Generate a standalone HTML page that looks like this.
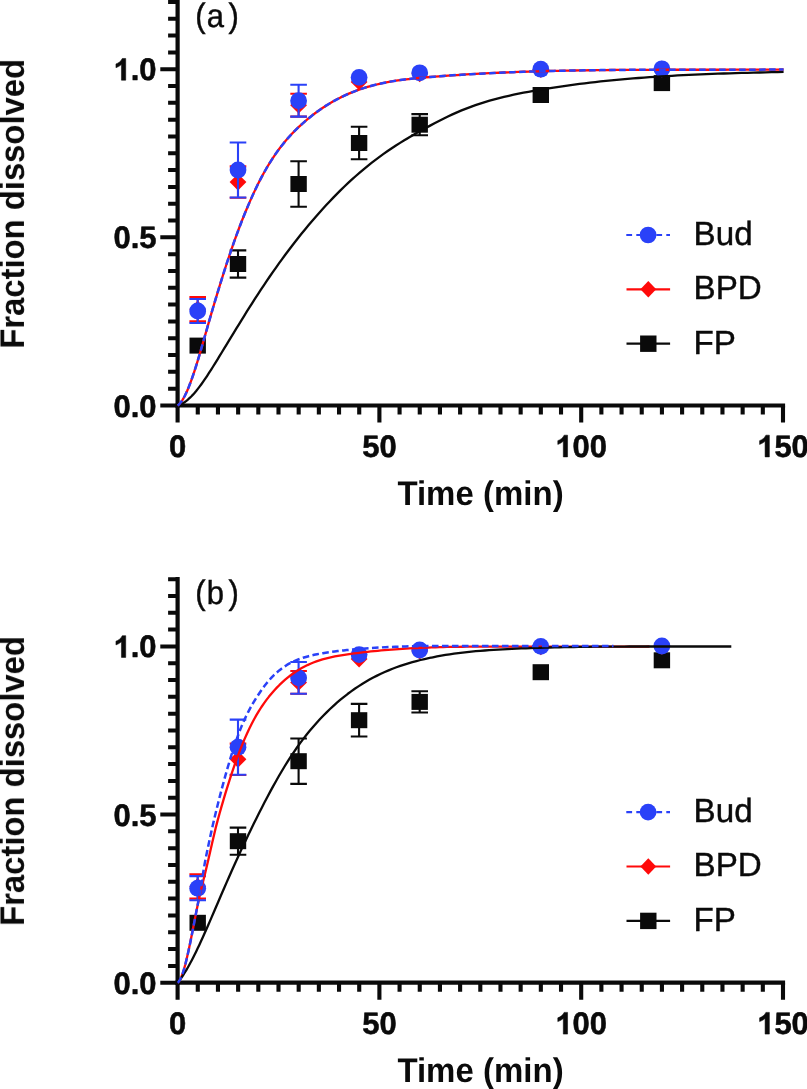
<!DOCTYPE html>
<html><head><meta charset="utf-8"><title>Dissolution profiles</title>
<style>
html,body{margin:0;padding:0;background:#fff;}
body{width:807px;height:1089px;overflow:hidden;font-family:"Liberation Sans",sans-serif;}
svg{display:block;opacity:0.999;}
text{text-rendering:geometricPrecision;}
.tx{filter:grayscale(1);}
</style></head><body>
<svg width="807" height="1089" viewBox="0 0 807 1089">
<rect width="807" height="1089" fill="#ffffff"/>
<g stroke="#0a0a0a" stroke-width="4.2" fill="none" stroke-linecap="butt">
<path d="M177.6,-0.16V407.60"/>
<path d="M175.5,405.50H785.1"/>
<path d="M160.3,405.50H177.6M168.1,388.69H177.6M168.1,371.87H177.6M168.1,355.06H177.6M168.1,338.24H177.6M168.1,321.43H177.6M168.1,304.61H177.6M168.1,287.79H177.6M168.1,270.98H177.6M168.1,254.16H177.6M160.3,237.35H177.6M168.1,220.53H177.6M168.1,203.72H177.6M168.1,186.90H177.6M168.1,170.09H177.6M168.1,153.27H177.6M168.1,136.46H177.6M168.1,119.64H177.6M168.1,102.83H177.6M168.1,86.01H177.6M160.3,69.20H177.6M168.1,52.38H177.6M168.1,35.57H177.6M168.1,18.75H177.6M168.1,1.94H177.6" stroke-width="4"/>
<path d="M177.60,405.50V422.50M197.78,405.50V414.50M217.96,405.50V414.50M238.14,405.50V414.50M258.32,405.50V414.50M278.50,405.50V414.50M298.68,405.50V414.50M318.86,405.50V414.50M339.04,405.50V414.50M359.22,405.50V414.50M379.40,405.50V422.50M399.58,405.50V414.50M419.76,405.50V414.50M439.94,405.50V414.50M460.12,405.50V414.50M480.30,405.50V414.50M500.48,405.50V414.50M520.66,405.50V414.50M540.84,405.50V414.50M561.02,405.50V414.50M581.20,405.50V422.50M601.38,405.50V414.50M621.56,405.50V414.50M641.74,405.50V414.50M661.92,405.50V414.50M682.10,405.50V414.50M702.28,405.50V414.50M722.46,405.50V414.50M742.64,405.50V414.50M762.82,405.50V414.50M783.00,405.50V422.50" stroke-width="4.1"/>
</g>
<g class="tx" font-family="Liberation Sans, sans-serif" font-weight="700" font-size="31px" fill="#0a0a0a" stroke="#0a0a0a" stroke-width="0.55" stroke-linejoin="round">
<text x="113.51" y="416.50">0</text><text x="130.75" y="416.50">.</text><text x="139.36" y="416.50">0</text>
<text x="113.51" y="248.35">0</text><text x="130.75" y="248.35">.</text><text x="139.36" y="248.35">5</text>
<path transform="translate(113.51,80.20) scale(0.015137,-0.014758)" stroke-width="36" d="M806 0H525V1059Q371 915 162 846V1101Q272 1137 401 1237.5Q530 1338 578 1472H806Z"/><text x="130.75" y="80.20">.</text><text x="139.36" y="80.20">0</text>
<text x="168.98" y="456.90">0</text>
<text x="362.16" y="456.90">5</text><text x="379.40" y="456.90">0</text>
<path transform="translate(555.35,456.90) scale(0.015137,-0.014758)" stroke-width="36" d="M806 0H525V1059Q371 915 162 846V1101Q272 1137 401 1237.5Q530 1338 578 1472H806Z"/><text x="572.58" y="456.90">0</text><text x="589.82" y="456.90">0</text>
<path transform="translate(757.15,456.90) scale(0.015137,-0.014758)" stroke-width="36" d="M806 0H525V1059Q371 915 162 846V1101Q272 1137 401 1237.5Q530 1338 578 1472H806Z"/><text x="774.38" y="456.90">5</text><text x="791.62" y="456.90">0</text>
</g>
<g class="tx" font-family="Liberation Sans, sans-serif" font-weight="700" font-size="33px" fill="#0a0a0a">
<text transform="translate(480.5,504.7) scale(1.0,1.04)" text-anchor="middle">Time (min)</text>
<text transform="translate(24.0,203.8) rotate(-90) scale(0.994,1.035)" text-anchor="middle">Fraction dissolved</text>
</g>
<g class="tx" font-family="Liberation Sans, sans-serif" font-size="31px" fill="#0a0a0a" stroke="#0a0a0a" stroke-width="0.4">
<text transform="translate(195.3,27.0) scale(1.0,1.09)">(</text>
<text transform="translate(206.7,26.6) scale(1.0,1.07)">a</text>
<text transform="translate(228.6,27.0) scale(1.0,1.09)">)</text>
<text transform="translate(693.6,245.1) scale(1.07,1.08)">Bud</text>
<text transform="translate(693.6,299.2) scale(1.07,1.08)">BPD</text>
<text transform="translate(693.6,353.6) scale(1.07,1.08)">FP</text>
</g>
<path d="M626.3,235.0H670.0" stroke="#2a41f8" stroke-width="2.2" stroke-dasharray="5.8 4.2" fill="none"/>
<circle cx="648.1" cy="235.0" r="8.35" fill="#2a41f8"/>
<path d="M626.5,289.3H670.1" stroke="#ff0a0a" stroke-width="2.2" fill="none"/>
<path d="M648.3,281.0l7.9,8.3l-7.9,8.3l-7.9,-8.3z" fill="#ff0a0a"/>
<path d="M626.5,343.7H670.1" stroke="#0a0a0a" stroke-width="2.2" fill="none"/>
<rect x="640.1" y="335.5" width="16.4" height="16.4" fill="#0a0a0a"/>
<rect x="189.5" y="337.60" width="16.4" height="16" fill="#0a0a0a"/>
<path d="M238.0,250.40V277.60M229.7,250.40h16.6M229.7,277.60h16.6" stroke="#0a0a0a" stroke-width="2.1" fill="none"/>
<rect x="229.8" y="256.00" width="16.4" height="16" fill="#0a0a0a"/>
<path d="M298.6,161.30V206.70M290.3,161.30h16.6M290.3,206.70h16.6" stroke="#0a0a0a" stroke-width="2.1" fill="none"/>
<rect x="290.4" y="176.00" width="16.4" height="16" fill="#0a0a0a"/>
<path d="M359.1,126.70V159.30M350.8,126.70h16.6M350.8,159.30h16.6" stroke="#0a0a0a" stroke-width="2.1" fill="none"/>
<rect x="350.9" y="135.00" width="16.4" height="16" fill="#0a0a0a"/>
<path d="M419.7,114.10V135.30M411.4,114.10h16.6M411.4,135.30h16.6" stroke="#0a0a0a" stroke-width="2.1" fill="none"/>
<rect x="411.5" y="116.70" width="16.4" height="16" fill="#0a0a0a"/>
<rect x="532.6" y="87.00" width="16.4" height="16" fill="#0a0a0a"/>
<rect x="653.7" y="75.10" width="16.4" height="16" fill="#0a0a0a"/>
<path d="M197.7,297.10V321.40M189.4,297.10h16.6M189.4,321.40h16.6" stroke="#ff0a0a" stroke-width="2.1" fill="none"/>
<path d="M197.7,300.85l8.4,8.4l-8.4,8.4l-8.4,-8.4z" fill="#ff0a0a"/>
<path d="M238.0,166.40V197.80M229.7,166.40h16.6M229.7,197.80h16.6" stroke="#ff0a0a" stroke-width="2.1" fill="none"/>
<path d="M238.0,173.70l8.4,8.4l-8.4,8.4l-8.4,-8.4z" fill="#ff0a0a"/>
<path d="M298.6,93.80V116.60M290.3,93.80h16.6M290.3,116.60h16.6" stroke="#ff0a0a" stroke-width="2.1" fill="none"/>
<path d="M298.6,96.80l8.4,8.4l-8.4,8.4l-8.4,-8.4z" fill="#ff0a0a"/>
<path d="M359.1,73.50l8.4,8.4l-8.4,8.4l-8.4,-8.4z" fill="#ff0a0a"/>
<path d="M419.7,65.40l8.4,8.4l-8.4,8.4l-8.4,-8.4z" fill="#ff0a0a"/>
<path d="M540.8,61.20l8.4,8.4l-8.4,8.4l-8.4,-8.4z" fill="#ff0a0a"/>
<path d="M661.9,60.80l8.4,8.4l-8.4,8.4l-8.4,-8.4z" fill="#ff0a0a"/>
<path d="M197.7,298.95V323.05M189.4,298.95h16.6M189.4,323.05h16.6" stroke="#2a41f8" stroke-width="2.1" fill="none"/>
<circle cx="197.7" cy="311.00" r="8.4" fill="#2a41f8"/>
<path d="M238.0,142.45V197.55M229.7,142.45h16.6M229.7,197.55h16.6" stroke="#2a41f8" stroke-width="2.1" fill="none"/>
<circle cx="238.0" cy="170.00" r="8.4" fill="#2a41f8"/>
<path d="M298.6,84.80V116.60M290.3,84.80h16.6M290.3,116.60h16.6" stroke="#2a41f8" stroke-width="2.1" fill="none"/>
<circle cx="298.6" cy="100.70" r="8.4" fill="#2a41f8"/>
<circle cx="359.1" cy="77.40" r="8.4" fill="#2a41f8"/>
<circle cx="419.7" cy="72.80" r="8.4" fill="#2a41f8"/>
<circle cx="540.8" cy="69.20" r="8.4" fill="#2a41f8"/>
<circle cx="661.9" cy="68.80" r="8.4" fill="#2a41f8"/>
<path d="M177.60,405.50 L177.78,405.45 L178.15,405.35 L178.66,405.19 L179.27,404.97 L179.99,404.69 L180.80,404.34 L181.70,403.89 L182.67,403.36 L183.72,402.72 L184.85,401.97 L186.04,401.10 L187.30,400.10 L188.63,398.96 L190.02,397.67 L191.47,396.24 L192.98,394.65 L194.54,392.89 L196.16,390.98 L197.84,388.89 L199.57,386.64 L201.36,384.23 L203.19,381.65 L205.08,378.91 L207.02,376.02 L209.00,372.98 L211.03,369.80 L213.12,366.50 L215.24,363.07 L217.42,359.55 L219.64,355.94 L221.90,352.24 L224.21,348.45 L226.56,344.60 L228.96,340.66 L231.40,336.66 L233.88,332.59 L236.40,328.46 L238.96,324.28 L241.56,320.05 L244.21,315.78 L246.89,311.47 L249.62,307.14 L252.38,302.78 L255.18,298.41 L258.02,294.03 L260.90,289.65 L263.82,285.27 L266.77,280.89 L269.76,276.52 L272.79,272.15 L275.85,267.79 L278.95,263.44 L282.09,259.11 L285.26,254.80 L288.47,250.51 L291.71,246.24 L294.99,241.99 L298.30,237.77 L301.65,233.58 L305.03,229.43 L308.45,225.30 L311.90,221.22 L315.38,217.17 L318.89,213.17 L322.44,209.21 L326.03,205.30 L329.64,201.44 L333.29,197.63 L336.97,193.87 L340.68,190.18 L344.42,186.53 L348.20,182.95 L352.00,179.44 L355.84,175.99 L359.71,172.61 L363.61,169.30 L367.54,166.06 L371.50,162.89 L375.50,159.81 L379.52,156.80 L383.57,153.88 L387.66,151.03 L391.77,148.25 L395.92,145.55 L400.09,142.90 L404.29,140.31 L408.52,137.78 L412.78,135.28 L417.08,132.83 L421.40,130.40 L425.74,128.00 L430.12,125.63 L434.53,123.28 L438.96,120.98 L443.42,118.72 L447.92,116.53 L452.43,114.41 L456.98,112.37 L461.56,110.43 L466.16,108.58 L470.79,106.83 L475.45,105.17 L480.14,103.59 L484.85,102.11 L489.59,100.70 L494.36,99.37 L499.15,98.11 L503.97,96.92 L508.82,95.80 L513.70,94.73 L518.60,93.71 L523.53,92.73 L528.48,91.80 L533.46,90.90 L538.47,90.02 L543.51,89.18 L548.57,88.35 L553.65,87.55 L558.76,86.78 L563.90,86.03 L569.07,85.31 L574.26,84.60 L579.47,83.93 L584.71,83.28 L589.98,82.65 L595.27,82.04 L600.58,81.46 L605.92,80.90 L611.29,80.36 L616.68,79.84 L622.10,79.35 L627.54,78.87 L633.01,78.42 L638.50,77.99 L644.01,77.57 L649.55,77.18 L655.12,76.80 L660.71,76.44 L666.32,76.10 L671.96,75.78 L677.62,75.47 L683.31,75.18 L689.02,74.90 L694.75,74.64 L700.51,74.39 L706.29,74.16 L712.10,73.93 L717.93,73.72 L723.78,73.52 L729.66,73.33 L735.56,73.15 L741.48,72.97 L747.43,72.81 L753.40,72.64 L759.39,72.49 L765.41,72.34 L771.45,72.19 L777.51,72.05 L783.60,71.90" stroke="#0a0a0a" stroke-width="2.3" fill="none" stroke-linejoin="round"/>
<path d="M177.60,405.50 L177.78,405.37 L178.15,405.09 L178.66,404.67 L179.27,404.08 L179.99,403.31 L180.80,402.32 L181.70,401.10 L182.67,399.61 L183.72,397.82 L184.85,395.72 L186.04,393.28 L187.30,390.49 L188.63,387.32 L190.02,383.78 L191.47,379.85 L192.98,375.53 L194.54,370.83 L196.16,365.75 L197.84,360.31 L199.57,354.53 L201.36,348.43 L203.19,342.05 L205.08,335.43 L207.02,328.62 L209.00,321.67 L211.03,314.63 L213.12,307.51 L215.24,300.32 L217.42,293.09 L219.64,285.82 L221.90,278.54 L224.21,271.25 L226.56,263.98 L228.96,256.75 L231.40,249.57 L233.88,242.46 L236.40,235.44 L238.96,228.52 L241.56,221.71 L244.21,215.04 L246.89,208.50 L249.62,202.12 L252.38,195.90 L255.18,189.87 L258.02,184.02 L260.90,178.38 L263.82,172.95 L266.77,167.76 L269.76,162.80 L272.79,158.07 L275.85,153.56 L278.95,149.26 L282.09,145.17 L285.26,141.28 L288.47,137.57 L291.71,134.04 L294.99,130.66 L298.30,127.43 L301.65,124.32 L305.03,121.33 L308.45,118.45 L311.90,115.67 L315.38,113.01 L318.89,110.45 L322.44,108.01 L326.03,105.67 L329.64,103.44 L333.29,101.33 L336.97,99.31 L340.68,97.41 L344.42,95.61 L348.20,93.92 L352.00,92.32 L355.84,90.83 L359.71,89.43 L363.61,88.13 L367.54,86.92 L371.50,85.80 L375.50,84.76 L379.52,83.80 L383.57,82.93 L387.66,82.12 L391.77,81.39 L395.92,80.72 L400.09,80.10 L404.29,79.55 L408.52,79.04 L412.78,78.57 L417.08,78.14 L421.40,77.74 L425.74,77.36 L430.12,77.00 L434.53,76.65 L438.96,76.31 L443.42,75.98 L447.92,75.66 L452.43,75.34 L456.98,75.04 L461.56,74.75 L466.16,74.46 L470.79,74.19 L475.45,73.92 L480.14,73.67 L484.85,73.42 L489.59,73.18 L494.36,72.95 L499.15,72.73 L503.97,72.52 L508.82,72.32 L513.70,72.13 L518.60,71.94 L523.53,71.77 L528.48,71.60 L533.46,71.45 L538.47,71.30 L543.51,71.16 L548.57,71.02 L553.65,70.90 L558.76,70.78 L563.90,70.67 L569.07,70.57 L574.26,70.48 L579.47,70.39 L584.71,70.31 L589.98,70.23 L595.27,70.17 L600.58,70.11 L605.92,70.05 L611.29,70.00 L616.68,69.96 L622.10,69.92 L627.54,69.88 L633.01,69.85 L638.50,69.83 L644.01,69.81 L649.55,69.79 L655.12,69.78 L660.71,69.76 L666.32,69.76 L671.96,69.75 L677.62,69.75 L683.31,69.74 L689.02,69.74 L694.75,69.74 L700.51,69.74 L706.29,69.74 L712.10,69.74 L717.93,69.73 L723.78,69.73 L729.66,69.72 L735.56,69.71 L741.48,69.70 L747.43,69.69 L753.40,69.67 L759.39,69.65 L765.41,69.62 L771.45,69.59 L777.51,69.55 L783.60,69.50" stroke="#ff0a0a" stroke-width="2.3" fill="none" stroke-linejoin="round"/>
<path d="M177.60,405.50 L177.78,405.37 L178.15,405.09 L178.66,404.67 L179.27,404.08 L179.99,403.31 L180.80,402.32 L181.70,401.10 L182.67,399.61 L183.72,397.82 L184.85,395.72 L186.04,393.28 L187.30,390.49 L188.63,387.32 L190.02,383.78 L191.47,379.85 L192.98,375.53 L194.54,370.83 L196.16,365.75 L197.84,360.31 L199.57,354.53 L201.36,348.43 L203.19,342.05 L205.08,335.43 L207.02,328.62 L209.00,321.67 L211.03,314.63 L213.12,307.51 L215.24,300.32 L217.42,293.09 L219.64,285.82 L221.90,278.54 L224.21,271.25 L226.56,263.98 L228.96,256.75 L231.40,249.57 L233.88,242.46 L236.40,235.44 L238.96,228.52 L241.56,221.71 L244.21,215.04 L246.89,208.50 L249.62,202.12 L252.38,195.90 L255.18,189.87 L258.02,184.02 L260.90,178.38 L263.82,172.95 L266.77,167.76 L269.76,162.80 L272.79,158.07 L275.85,153.56 L278.95,149.26 L282.09,145.17 L285.26,141.28 L288.47,137.57 L291.71,134.04 L294.99,130.66 L298.30,127.43 L301.65,124.32 L305.03,121.33 L308.45,118.45 L311.90,115.67 L315.38,113.01 L318.89,110.45 L322.44,108.01 L326.03,105.67 L329.64,103.44 L333.29,101.33 L336.97,99.31 L340.68,97.41 L344.42,95.61 L348.20,93.92 L352.00,92.32 L355.84,90.83 L359.71,89.43 L363.61,88.13 L367.54,86.92 L371.50,85.80 L375.50,84.76 L379.52,83.80 L383.57,82.93 L387.66,82.12 L391.77,81.39 L395.92,80.72 L400.09,80.10 L404.29,79.55 L408.52,79.04 L412.78,78.57 L417.08,78.14 L421.40,77.74 L425.74,77.36 L430.12,77.00 L434.53,76.65 L438.96,76.31 L443.42,75.98 L447.92,75.66 L452.43,75.34 L456.98,75.04 L461.56,74.75 L466.16,74.46 L470.79,74.19 L475.45,73.92 L480.14,73.67 L484.85,73.42 L489.59,73.18 L494.36,72.95 L499.15,72.73 L503.97,72.52 L508.82,72.32 L513.70,72.13 L518.60,71.94 L523.53,71.77 L528.48,71.60 L533.46,71.45 L538.47,71.30 L543.51,71.16 L548.57,71.02 L553.65,70.90 L558.76,70.78 L563.90,70.67 L569.07,70.57 L574.26,70.48 L579.47,70.39 L584.71,70.31 L589.98,70.23 L595.27,70.17 L600.58,70.11 L605.92,70.05 L611.29,70.00 L616.68,69.96 L622.10,69.92 L627.54,69.88 L633.01,69.85 L638.50,69.83 L644.01,69.81 L649.55,69.79 L655.12,69.78 L660.71,69.76 L666.32,69.76 L671.96,69.75 L677.62,69.75 L683.31,69.74 L689.02,69.74 L694.75,69.74 L700.51,69.74 L706.29,69.74 L712.10,69.74 L717.93,69.73 L723.78,69.73 L729.66,69.72 L735.56,69.71 L741.48,69.70 L747.43,69.69 L753.40,69.67 L759.39,69.65 L765.41,69.62 L771.45,69.59 L777.51,69.55 L783.60,69.50" stroke="#2a41f8" stroke-width="2.5" stroke-dasharray="6.6 3.4" fill="none" stroke-linejoin="round"/>
<g stroke="#0a0a0a" stroke-width="4.2" fill="none" stroke-linecap="butt">
<path d="M177.6,577.04V984.80"/>
<path d="M175.5,982.70H785.1"/>
<path d="M160.3,982.70H177.6M168.1,965.88H177.6M168.1,949.07H177.6M168.1,932.25H177.6M168.1,915.44H177.6M168.1,898.62H177.6M168.1,881.81H177.6M168.1,865.00H177.6M168.1,848.18H177.6M168.1,831.37H177.6M160.3,814.55H177.6M168.1,797.74H177.6M168.1,780.92H177.6M168.1,764.11H177.6M168.1,747.29H177.6M168.1,730.48H177.6M168.1,713.66H177.6M168.1,696.85H177.6M168.1,680.03H177.6M168.1,663.22H177.6M160.3,646.40H177.6M168.1,629.59H177.6M168.1,612.77H177.6M168.1,595.95H177.6M168.1,579.14H177.6" stroke-width="4"/>
<path d="M177.60,982.70V999.70M197.78,982.70V991.70M217.96,982.70V991.70M238.14,982.70V991.70M258.32,982.70V991.70M278.50,982.70V991.70M298.68,982.70V991.70M318.86,982.70V991.70M339.04,982.70V991.70M359.22,982.70V991.70M379.40,982.70V999.70M399.58,982.70V991.70M419.76,982.70V991.70M439.94,982.70V991.70M460.12,982.70V991.70M480.30,982.70V991.70M500.48,982.70V991.70M520.66,982.70V991.70M540.84,982.70V991.70M561.02,982.70V991.70M581.20,982.70V999.70M601.38,982.70V991.70M621.56,982.70V991.70M641.74,982.70V991.70M661.92,982.70V991.70M682.10,982.70V991.70M702.28,982.70V991.70M722.46,982.70V991.70M742.64,982.70V991.70M762.82,982.70V991.70M783.00,982.70V999.70" stroke-width="4.1"/>
</g>
<g class="tx" font-family="Liberation Sans, sans-serif" font-weight="700" font-size="31px" fill="#0a0a0a" stroke="#0a0a0a" stroke-width="0.55" stroke-linejoin="round">
<text x="113.51" y="993.70">0</text><text x="130.75" y="993.70">.</text><text x="139.36" y="993.70">0</text>
<text x="113.51" y="825.55">0</text><text x="130.75" y="825.55">.</text><text x="139.36" y="825.55">5</text>
<path transform="translate(113.51,657.40) scale(0.015137,-0.014758)" stroke-width="36" d="M806 0H525V1059Q371 915 162 846V1101Q272 1137 401 1237.5Q530 1338 578 1472H806Z"/><text x="130.75" y="657.40">.</text><text x="139.36" y="657.40">0</text>
<text x="168.98" y="1034.10">0</text>
<text x="362.16" y="1034.10">5</text><text x="379.40" y="1034.10">0</text>
<path transform="translate(555.35,1034.10) scale(0.015137,-0.014758)" stroke-width="36" d="M806 0H525V1059Q371 915 162 846V1101Q272 1137 401 1237.5Q530 1338 578 1472H806Z"/><text x="572.58" y="1034.10">0</text><text x="589.82" y="1034.10">0</text>
<path transform="translate(757.15,1034.10) scale(0.015137,-0.014758)" stroke-width="36" d="M806 0H525V1059Q371 915 162 846V1101Q272 1137 401 1237.5Q530 1338 578 1472H806Z"/><text x="774.38" y="1034.10">5</text><text x="791.62" y="1034.10">0</text>
</g>
<g class="tx" font-family="Liberation Sans, sans-serif" font-weight="700" font-size="33px" fill="#0a0a0a">
<text transform="translate(480.5,1081.9) scale(1.0,1.04)" text-anchor="middle">Time (min)</text>
<text transform="translate(24.0,781.0) rotate(-90) scale(0.994,1.035)" text-anchor="middle">Fraction dissolved</text>
</g>
<g class="tx" font-family="Liberation Sans, sans-serif" font-size="31px" fill="#0a0a0a" stroke="#0a0a0a" stroke-width="0.4">
<text transform="translate(195.3,604.2) scale(1.0,1.09)">(</text>
<text transform="translate(206.7,603.8) scale(1.0,1.07)">b</text>
<text transform="translate(228.6,604.2) scale(1.0,1.09)">)</text>
<text transform="translate(693.6,822.3) scale(1.07,1.08)">Bud</text>
<text transform="translate(693.6,876.4) scale(1.07,1.08)">BPD</text>
<text transform="translate(693.6,930.8) scale(1.07,1.08)">FP</text>
</g>
<path d="M626.3,812.2H670.0" stroke="#2a41f8" stroke-width="2.2" stroke-dasharray="5.8 4.2" fill="none"/>
<circle cx="648.1" cy="812.2" r="8.35" fill="#2a41f8"/>
<path d="M626.5,866.5H670.1" stroke="#ff0a0a" stroke-width="2.2" fill="none"/>
<path d="M648.3,858.2l7.9,8.3l-7.9,8.3l-7.9,-8.3z" fill="#ff0a0a"/>
<path d="M626.5,920.9H670.1" stroke="#0a0a0a" stroke-width="2.2" fill="none"/>
<rect x="640.1" y="912.7" width="16.4" height="16.4" fill="#0a0a0a"/>
<rect x="189.5" y="914.80" width="16.4" height="16" fill="#0a0a0a"/>
<path d="M238.0,827.60V854.80M229.7,827.60h16.6M229.7,854.80h16.6" stroke="#0a0a0a" stroke-width="2.1" fill="none"/>
<rect x="229.8" y="833.20" width="16.4" height="16" fill="#0a0a0a"/>
<path d="M298.6,738.50V783.90M290.3,738.50h16.6M290.3,783.90h16.6" stroke="#0a0a0a" stroke-width="2.1" fill="none"/>
<rect x="290.4" y="753.20" width="16.4" height="16" fill="#0a0a0a"/>
<path d="M359.1,703.90V736.50M350.8,703.90h16.6M350.8,736.50h16.6" stroke="#0a0a0a" stroke-width="2.1" fill="none"/>
<rect x="350.9" y="712.20" width="16.4" height="16" fill="#0a0a0a"/>
<path d="M419.7,691.30V712.50M411.4,691.30h16.6M411.4,712.50h16.6" stroke="#0a0a0a" stroke-width="2.1" fill="none"/>
<rect x="411.5" y="693.90" width="16.4" height="16" fill="#0a0a0a"/>
<rect x="532.6" y="664.20" width="16.4" height="16" fill="#0a0a0a"/>
<rect x="653.7" y="652.30" width="16.4" height="16" fill="#0a0a0a"/>
<path d="M197.7,874.30V898.60M189.4,874.30h16.6M189.4,898.60h16.6" stroke="#ff0a0a" stroke-width="2.1" fill="none"/>
<path d="M197.7,878.05l8.4,8.4l-8.4,8.4l-8.4,-8.4z" fill="#ff0a0a"/>
<path d="M238.0,743.60V775.00M229.7,743.60h16.6M229.7,775.00h16.6" stroke="#ff0a0a" stroke-width="2.1" fill="none"/>
<path d="M238.0,750.90l8.4,8.4l-8.4,8.4l-8.4,-8.4z" fill="#ff0a0a"/>
<path d="M298.6,671.00V693.80M290.3,671.00h16.6M290.3,693.80h16.6" stroke="#ff0a0a" stroke-width="2.1" fill="none"/>
<path d="M298.6,674.00l8.4,8.4l-8.4,8.4l-8.4,-8.4z" fill="#ff0a0a"/>
<path d="M359.1,650.70l8.4,8.4l-8.4,8.4l-8.4,-8.4z" fill="#ff0a0a"/>
<path d="M419.7,642.60l8.4,8.4l-8.4,8.4l-8.4,-8.4z" fill="#ff0a0a"/>
<path d="M540.8,638.40l8.4,8.4l-8.4,8.4l-8.4,-8.4z" fill="#ff0a0a"/>
<path d="M661.9,638.00l8.4,8.4l-8.4,8.4l-8.4,-8.4z" fill="#ff0a0a"/>
<path d="M197.7,876.15V900.25M189.4,876.15h16.6M189.4,900.25h16.6" stroke="#2a41f8" stroke-width="2.1" fill="none"/>
<circle cx="197.7" cy="888.20" r="8.4" fill="#2a41f8"/>
<path d="M238.0,719.65V774.75M229.7,719.65h16.6M229.7,774.75h16.6" stroke="#2a41f8" stroke-width="2.1" fill="none"/>
<circle cx="238.0" cy="747.20" r="8.4" fill="#2a41f8"/>
<path d="M298.6,662.00V693.80M290.3,662.00h16.6M290.3,693.80h16.6" stroke="#2a41f8" stroke-width="2.1" fill="none"/>
<circle cx="298.6" cy="677.90" r="8.4" fill="#2a41f8"/>
<circle cx="359.1" cy="654.60" r="8.4" fill="#2a41f8"/>
<circle cx="419.7" cy="650.00" r="8.4" fill="#2a41f8"/>
<circle cx="540.8" cy="646.40" r="8.4" fill="#2a41f8"/>
<circle cx="661.9" cy="646.00" r="8.4" fill="#2a41f8"/>
<path d="M177.60,982.70 L177.74,982.61 L178.03,982.40 L178.42,982.04 L178.90,981.49 L179.46,980.70 L180.09,979.63 L180.79,978.23 L181.55,976.45 L182.37,974.26 L183.24,971.63 L184.17,968.53 L185.16,964.95 L186.19,960.87 L187.27,956.30 L188.40,951.24 L189.57,945.72 L190.79,939.78 L192.06,933.44 L193.36,926.79 L194.71,919.90 L196.10,912.86 L197.53,905.80 L199.00,898.83 L200.51,892.10 L202.05,885.60 L203.64,879.18 L205.26,872.65 L206.91,865.80 L208.61,858.58 L210.33,850.99 L212.10,843.20 L213.90,835.40 L215.73,827.82 L217.59,820.62 L219.49,813.71 L221.42,806.88 L223.39,800.12 L225.38,793.42 L227.41,786.81 L229.47,780.30 L231.56,773.89 L233.68,767.62 L235.83,761.48 L238.01,755.50 L240.23,749.69 L242.47,744.06 L244.74,738.64 L247.04,733.44 L249.37,728.47 L251.73,723.73 L254.11,719.22 L256.53,714.93 L258.97,710.86 L261.44,707.00 L263.94,703.34 L266.46,699.87 L269.01,696.58 L271.59,693.46 L274.20,690.48 L276.83,687.65 L279.49,684.95 L282.18,682.39 L284.89,679.96 L287.63,677.66 L290.39,675.50 L293.18,673.46 L296.00,671.54 L298.84,669.75 L301.70,668.08 L304.59,666.53 L307.51,665.09 L310.45,663.76 L313.41,662.54 L316.40,661.41 L319.41,660.38 L322.45,659.45 L325.51,658.59 L328.60,657.81 L331.71,657.10 L334.84,656.46 L337.99,655.86 L341.17,655.32 L344.38,654.82 L347.60,654.35 L350.85,653.89 L354.13,653.46 L357.42,653.03 L360.74,652.62 L364.08,652.23 L367.45,651.85 L370.83,651.48 L374.24,651.13 L377.67,650.79 L381.13,650.47 L384.60,650.16 L388.10,649.87 L391.62,649.59 L395.16,649.32 L398.72,649.07 L402.31,648.83 L405.91,648.60 L409.54,648.39 L413.19,648.19 L416.86,648.01 L420.55,647.83 L424.26,647.67 L428.00,647.53 L431.75,647.39 L435.53,647.27 L439.32,647.16 L443.14,647.06 L446.98,646.97 L450.84,646.90 L454.72,646.83 L458.62,646.78 L462.54,646.73 L466.48,646.70 L470.44,646.67 L474.42,646.66 L478.42,646.65 L482.44,646.65 L486.48,646.65 L490.54,646.65 L494.62,646.65 L498.72,646.65 L502.84,646.65 L506.98,646.65 L511.14,646.65 L515.32,646.65 L519.52,646.65 L523.74,646.65 L527.97,646.65 L532.23,646.65 L536.51,646.65 L540.80,646.65 L545.12,646.65 L549.45,646.65 L553.80,646.65 L558.17,646.65 L562.56,646.65 L566.97,646.65 L571.40,646.65 L575.85,646.65 L580.31,646.65 L584.80,646.65 L589.30,646.65 L593.82,646.65 L598.36,646.65 L602.92,646.65 L607.49,646.65 L612.09,646.65 L616.70,646.65 L621.33,646.65 L625.98,646.65 L630.65,646.65 L635.33,646.65 L640.04,646.65 L644.76,646.65 L649.50,646.50" stroke="#ff0a0a" stroke-width="2.3" fill="none" stroke-linejoin="round"/>
<path d="M177.60,982.70 L177.77,982.50 L178.10,982.09 L178.56,981.52 L179.13,980.80 L179.78,979.94 L180.52,978.94 L181.34,977.80 L182.23,976.51 L183.20,975.07 L184.22,973.48 L185.31,971.73 L186.47,969.81 L187.68,967.73 L188.95,965.48 L190.27,963.06 L191.65,960.47 L193.08,957.70 L194.56,954.76 L196.09,951.64 L197.68,948.36 L199.31,944.91 L200.98,941.28 L202.71,937.50 L204.48,933.56 L206.29,929.46 L208.15,925.23 L210.05,920.85 L211.99,916.35 L213.98,911.74 L216.01,907.02 L218.08,902.20 L220.19,897.30 L222.34,892.31 L224.53,887.25 L226.75,882.13 L229.02,876.95 L231.32,871.73 L233.67,866.48 L236.04,861.20 L238.46,855.90 L240.91,850.59 L243.40,845.25 L245.93,839.91 L248.49,834.55 L251.08,829.18 L253.71,823.80 L256.38,818.42 L259.08,813.04 L261.81,807.66 L264.57,802.30 L267.37,796.96 L270.21,791.66 L273.07,786.40 L275.97,781.19 L278.90,776.05 L281.87,770.99 L284.86,766.02 L287.89,761.15 L290.94,756.40 L294.03,751.78 L297.15,747.28 L300.31,742.91 L303.49,738.67 L306.70,734.56 L309.94,730.56 L313.22,726.69 L316.52,722.93 L319.85,719.29 L323.21,715.75 L326.60,712.33 L330.02,709.01 L333.47,705.80 L336.95,702.70 L340.46,699.71 L343.99,696.82 L347.56,694.04 L351.15,691.37 L354.77,688.81 L358.42,686.35 L362.09,684.00 L365.80,681.75 L369.53,679.61 L373.29,677.56 L377.07,675.61 L380.89,673.76 L384.73,672.01 L388.59,670.35 L392.49,668.77 L396.41,667.29 L400.35,665.88 L404.33,664.56 L408.33,663.32 L412.35,662.15 L416.41,661.05 L420.48,660.01 L424.59,659.04 L428.72,658.13 L432.87,657.27 L437.05,656.46 L441.26,655.70 L445.49,654.99 L449.74,654.32 L454.03,653.70 L458.33,653.13 L462.66,652.60 L467.02,652.10 L471.40,651.65 L475.81,651.23 L480.24,650.84 L484.69,650.49 L489.17,650.16 L493.67,649.86 L498.20,649.59 L502.75,649.33 L507.33,649.09 L511.93,648.87 L516.55,648.67 L521.20,648.47 L525.87,648.28 L530.56,648.11 L535.28,647.94 L540.02,647.79 L544.79,647.65 L549.58,647.51 L554.39,647.39 L559.22,647.28 L564.08,647.17 L568.96,647.08 L573.86,646.99 L578.79,646.91 L583.74,646.84 L588.71,646.78 L593.70,646.72 L598.72,646.68 L603.76,646.63 L608.82,646.60 L613.91,646.57 L619.01,646.55 L624.14,646.53 L629.29,646.52 L634.47,646.51 L639.66,646.51 L644.88,646.51 L650.12,646.51 L655.38,646.51 L660.66,646.51 L665.97,646.51 L671.29,646.51 L676.64,646.51 L682.01,646.51 L687.40,646.51 L692.82,646.51 L698.25,646.51 L703.70,646.51 L709.18,646.51 L714.68,646.51 L720.20,646.51 L725.74,646.51 L731.30,646.51" stroke="#0a0a0a" stroke-width="2.3" fill="none" stroke-linejoin="round"/>
<path d="M177.60,982.70 L177.73,982.61 L178.00,982.40 L178.36,982.06 L178.80,981.55 L179.32,980.84 L179.90,979.88 L180.55,978.64 L181.25,977.09 L182.00,975.18 L182.81,972.90 L183.67,970.21 L184.58,967.10 L185.53,963.55 L186.53,959.55 L187.57,955.11 L188.66,950.23 L189.79,944.93 L190.95,939.23 L192.16,933.17 L193.41,926.78 L194.69,920.13 L196.01,913.27 L197.37,906.28 L198.76,899.25 L200.19,892.25 L201.65,883.71 L203.15,872.79 L204.68,863.82 L206.24,855.83 L207.84,847.98 L209.47,840.24 L211.13,832.61 L212.82,825.10 L214.54,817.69 L216.30,810.40 L218.08,803.20 L219.89,796.09 L221.74,789.06 L223.61,782.10 L225.51,775.20 L227.44,768.40 L229.40,761.72 L231.39,755.19 L233.41,748.84 L235.45,742.70 L237.52,736.80 L239.62,731.18 L241.74,725.87 L243.89,720.89 L246.07,716.21 L248.27,711.80 L250.50,707.64 L252.76,703.68 L255.04,699.90 L257.35,696.24 L259.68,692.71 L262.04,689.31 L264.42,686.06 L266.83,682.98 L269.26,680.08 L271.72,677.38 L274.20,674.86 L276.71,672.54 L279.23,670.39 L281.79,668.41 L284.36,666.60 L286.96,664.95 L289.59,663.45 L292.23,662.09 L294.90,660.85 L297.60,659.73 L300.31,658.72 L303.05,657.80 L305.81,656.96 L308.59,656.19 L311.40,655.48 L314.23,654.82 L317.08,654.22 L319.95,653.67 L322.84,653.16 L325.76,652.69 L328.70,652.26 L331.66,651.86 L334.64,651.48 L337.64,651.11 L340.66,650.76 L343.70,650.42 L346.77,650.10 L349.86,649.79 L352.96,649.49 L356.09,649.20 L359.24,648.93 L362.41,648.67 L365.60,648.42 L368.81,648.19 L372.04,647.97 L375.29,647.76 L378.56,647.56 L381.85,647.38 L385.16,647.21 L388.49,647.05 L391.85,646.90 L395.22,646.77 L398.61,646.64 L402.02,646.53 L405.45,646.43 L408.89,646.34 L412.36,646.26 L415.85,646.20 L419.36,646.14 L422.88,646.09 L426.43,646.06 L429.99,646.03 L433.58,646.01 L437.18,646.00 L440.80,646.00 L444.44,646.00 L448.10,646.00 L451.77,646.00 L455.47,646.00 L459.18,646.00 L462.92,646.00 L466.67,646.00 L470.44,646.00 L474.22,646.00 L478.03,646.00 L481.85,646.00 L485.70,646.00 L489.56,646.00 L493.44,646.00 L497.33,646.00 L501.25,646.00 L505.18,646.00 L509.13,646.00 L513.09,646.00 L517.08,646.00 L521.08,646.00 L525.10,646.00 L529.14,646.00 L533.20,646.00 L537.27,646.00 L541.36,646.00 L545.47,646.00 L549.59,646.00 L553.73,646.00 L557.89,646.00 L562.07,646.00 L566.26,646.00 L570.47,646.00 L574.70,646.00 L578.94,646.00 L583.20,646.00 L587.48,646.00 L591.78,646.00 L596.09,646.00 L600.42,646.00 L604.76,646.00 L609.12,646.00 L613.50,646.00" stroke="#2a41f8" stroke-width="2.5" stroke-dasharray="6.6 3.4" fill="none" stroke-linejoin="round"/>
</svg>
</body></html>
